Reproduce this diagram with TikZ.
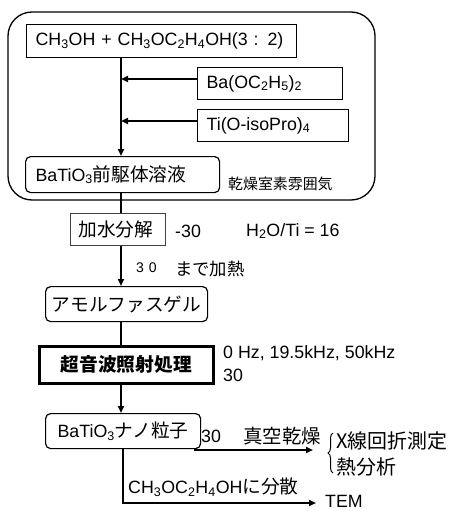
\documentclass[tikz,border=0pt]{standalone}
\usepackage{fontspec}
\setmainfont{Liberation Sans}
\newfontfamily\jp{Noto Sans CJK JP}[Scale=1.05]
\usetikzlibrary{arrows.meta,decorations.pathreplacing}
\begin{document}
\begin{tikzpicture}[x=1pt,y=-1pt,
  every node/.style={font=\fontsize{17.8}{20}\selectfont},
  box/.style={draw,line width=1.2pt,inner xsep=9pt,inner ysep=0pt,anchor=north west,align=left},
  rbox/.style={box,rounded corners=5pt},
  conn/.style={line width=1.8pt},
  arr/.style={conn,-{Triangle[length=7pt,width=6pt]}},
  lbl/.style={anchor=west,inner sep=0pt}]
\useasboundingbox (0,0) rectangle (449,511);
\draw[line width=1.3pt,rounded corners=24pt] (8,12) rectangle (375,200);
% boxes
\node[box,text width=252pt,minimum height=33pt] (top) at (26,24)
  {CH\textsubscript{3}OH + CH\textsubscript{3}OC\textsubscript{2}H\textsubscript{4}OH(3 : 2)};
\node[box,text width=127pt,minimum height=32pt] (ba) at (197,67)
  {Ba(OC\textsubscript{2}H\textsubscript{5})\textsubscript{2}};
\node[box,text width=133pt,minimum height=32pt] (ti) at (197,109)
  {Ti(O-isoPro)\textsubscript{4}};
\node[rbox,inner xsep=10pt,text width=174pt,minimum height=36pt] (prec) at (25,156)
  {BaTiO\textsubscript{3}{\jp 前駆体溶液}};
\node[lbl,font=\jp\fontsize{14.2}{16}\selectfont] (atm) at (228,184) {乾燥室素雰囲気};
\node[box,draw=black!75,line width=1pt,inner xsep=8pt,text width=79pt,minimum height=32pt] (hyd) at (70,213)
  {\jp 加水分解};
\node[lbl] (t1) at (175,231) {-30};
\node[lbl] (ratio) at (246,231) {H\textsubscript{2}O/Ti = 16};
\node[lbl,font=\fontsize{14}{16}\selectfont] (t2) at (136,268) {3\hspace{5pt}0};
\node[lbl,font=\jp\fontsize{16.5}{18}\selectfont] (heat) at (175,269) {まで加熱};
\node[rbox,inner xsep=0pt,text width=162pt,align=center,minimum height=35pt] (amo) at (45,286)
  {\jp アモルファスゲル};
\node[box,line width=2.6pt,inner xsep=0pt,text width=174pt,align=center,minimum height=37pt] (ultra) at (38,345)
  {\jp\bfseries 超音波照射処理};
\node[lbl] (freq) at (223,353) {0 Hz, 19.5kHz, 50kHz};
\node[lbl] (t3) at (223,375) {30};
\node[rbox,inner xsep=12pt,text width=131pt,minimum height=35pt] (nano) at (45,413)
  {BaTiO\textsubscript{3}{\jp ナノ粒子}};
\node[lbl] (t4) at (201,436) {30};
\node[lbl,font=\jp\fontsize{18.5}{20}\selectfont] (dry) at (243,436) {真空乾燥};
\node[lbl,font=\jp\fontsize{19}{20}\selectfont] (xrd) at (336,441) {X線回折測定};
\node[lbl,font=\jp\fontsize{19}{20}\selectfont] (ta) at (336,467) {熱分析};
\node[lbl] (disp) at (128,487) {CH\textsubscript{3}OC\textsubscript{2}H\textsubscript{4}OH{\jp に分散}};
\node[lbl] (tem) at (325,501.5) {TEM};
% spine coordinates
\coordinate (j1) at (121,79);
\coordinate (j2) at (121,121);
\coordinate (d1) at (313,450);
\coordinate (c1) at (123,503);
\coordinate (d2) at (316,503);
% connectors
\draw[arr] (top.south -| j1) -- (prec.north -| j1);
\draw[arr] (ba.west |- j1) -- (j1);
\draw[arr] (ti.west |- j2) -- (j2);
\draw[conn] (prec.south -| j1) -- (hyd.north -| j1);
\draw[arr] (hyd.south -| j1) -- (amo.north -| j1);
\draw[conn] (amo.south -| j1) -- (ultra.north -| j1);
\draw[arr] (ultra.south -| j1) -- (nano.north -| j1);
\draw[arr] ([xshift=-7pt]nano.south east |- d1) -- (d1);
\draw[arr] (nano.south -| c1) -- (c1) -- (d2);
\draw[line width=1pt,decorate,decoration={brace,amplitude=5pt}] (333,473) -- (333,433);
\end{tikzpicture}
\end{document}
